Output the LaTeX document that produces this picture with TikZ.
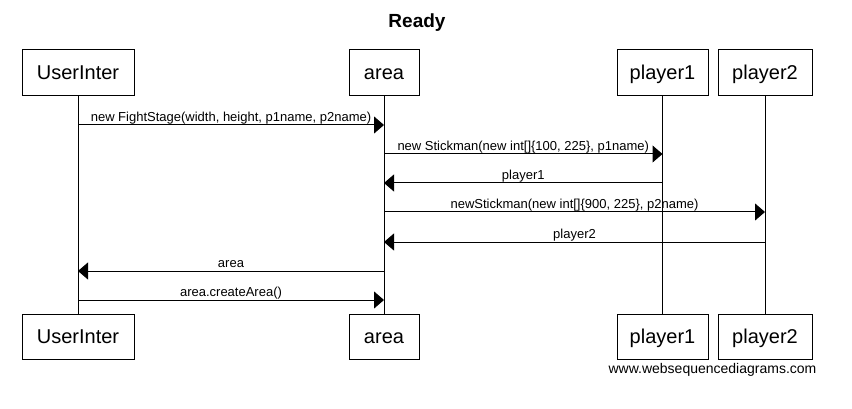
\documentclass[tikz,border=0pt]{standalone}
\usepackage{fontspec}
\setmainfont{Liberation Sans}
\usetikzlibrary{arrows.meta}
\tikzset{
  actor/.style={draw, line width=1pt, inner sep=0pt, minimum height=46pt,
    text height=13.5pt, text depth=0pt, font=\fontsize{20}{24}\selectfont},
  life/.style={line width=1pt},
  msg/.style={line width=1pt, -{Triangle[length=10pt,width=17pt]}},
  lbl/.style={midway, anchor=base, yshift=3.5pt, inner sep=0pt, font=\fontsize{13}{15}\selectfont}
}
\begin{document}
\begin{tikzpicture}[x=1pt,y=-1pt]
\useasboundingbox (0,0) rectangle (852,409);
\node[font=\bfseries\fontsize{19}{22}\selectfont, anchor=base, inner sep=0pt] (title) at (417,28) {Ready};
% top actors
\node[actor, minimum width=112pt] (u1) at (78,73) {UserInter};
\node[actor, minimum width=70pt] (a1) at (384,73) {area};
\node[actor, minimum width=91pt] (p1) at (662.5,73) {player1};
\node[actor, minimum width=94pt] (q1) at (765,73) {player2};
% bottom actors
\node[actor, minimum width=112pt, minimum height=45pt] (u2) at (78,336.5) {UserInter};
\node[actor, minimum width=70pt, minimum height=45pt] (a2) at (384,336.5) {area};
\node[actor, minimum width=91pt, minimum height=45pt] (p2) at (662.5,336.5) {player1};
\node[actor, minimum width=94pt, minimum height=45pt] (q2) at (765,336.5) {player2};
% lifelines
\draw[life] (u1.south) -- (u2.north);
\draw[life] (a1.south) -- (a2.north);
\draw[life] (p1.south) -- (p2.north);
\draw[life] (q1.south) -- (q2.north);
% messages
\draw[msg] (u1.south |- 0,125) -- (a1.south |- 0,125) node[lbl] {new FightStage(width, height, p1name, p2name)};
\draw[msg] (a1.south |- 0,154) -- (p1.south |- 0,154) node[lbl] {new Stickman(new int[]\{100, 225\}, p1name)};
\draw[msg] (p1.south |- 0,183) -- (a1.south |- 0,183) node[lbl] {player1};
\draw[msg] (a1.south |- 0,212) -- (q1.south |- 0,212) node[lbl] {newStickman(new int[]\{900, 225\}, p2name)};
\draw[msg] (q1.south |- 0,242) -- (a1.south |- 0,242) node[lbl] {player2};
\draw[msg] (a1.south |- 0,271) -- (u1.south |- 0,271) node[lbl] {area};
\draw[msg] (u1.south |- 0,300) -- (a1.south |- 0,300) node[lbl] {area.createArea()};
\node[anchor=base, inner sep=0pt, font=\fontsize{14}{16}\selectfont] (wm) at (712.5,373) {www.websequencediagrams.com};
\end{tikzpicture}
\end{document}
